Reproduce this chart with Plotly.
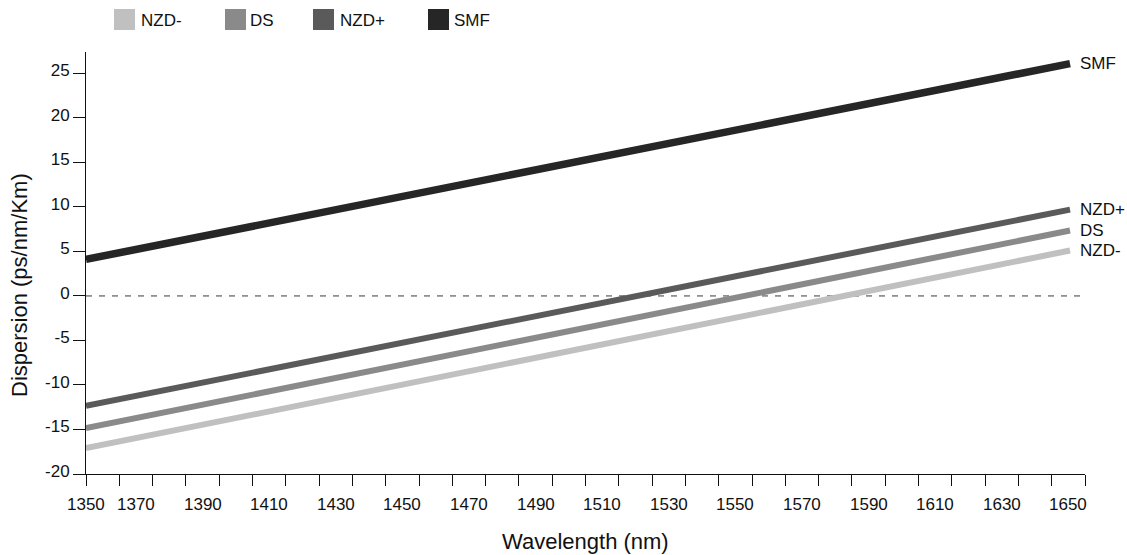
import plotly.graph_objects as go

# ---------------- data ----------------
series_names = ["NZD-", "DS", "NZD+", "SMF"]
series_colors = ["#c0c0c0", "#8a8a8a", "#5a5a5a", "#262626"]
series_widths = [6, 6, 6, 7.5]
wavelength = [1350, 1645.5]
nzd_minus = [-17.1, 5.1]
ds = [-14.85, 7.35]
nzd_plus = [-12.35, 9.7]
smf = [4.1, 26.1]
series_values = [nzd_minus, ds, nzd_plus, smf]

x_tick_labels = [1350, 1370, 1390, 1410, 1430, 1450, 1470, 1490, 1510, 1530,
                 1550, 1570, 1590, 1610, 1630, 1650]
y_ticks = [-20, -15, -10, -5, 0, 5, 10, 15, 20, 25]

# ---------------- layout geometry ----------------
W, H = 1127, 555
L, R, T, B = 86, 1085, 52, 474
FONT = "Liberation Sans, Arial, Helvetica, sans-serif"
FS = 17
TFS = 22


def px_x(p):
    return (p - L) / (R - L)


def px_y(p):
    return (B - p) / (B - T)


fig = go.Figure()
for name, vals, col, w in zip(series_names, series_values, series_colors, series_widths):
    fig.add_trace(go.Scatter(x=wavelength, y=vals, mode="lines", name=name,
                             line=dict(color=col, width=w), showlegend=False,
                             hoverinfo="skip"))

annotations = []
shapes = []

# zero dashed line
shapes.append(dict(type="line", xref="x", yref="y", x0=1350, x1=1650, y0=0, y1=0,
                   line=dict(color="#3a3a3a", width=1, dash="6px,7px"), layer="below"))

# right-end labels
for name, vals in zip(series_names, series_values):
    annotations.append(dict(x=wavelength[-1], y=vals[-1], xref="x", yref="y",
                            text=name, showarrow=False, xanchor="left",
                            yanchor="middle", xshift=8,
                            font=dict(family=FONT, size=FS, color="#111111")))

# x tick labels (placed between tick marks as in the reference)
for i, lab in enumerate(x_tick_labels):
    pos = lab if i == 0 else lab - 5
    annotations.append(dict(x=pos, y=0, xref="x", yref="paper", text=str(lab),
                            showarrow=False, xanchor="center", yanchor="middle",
                            yshift=-30, font=dict(family=FONT, size=FS, color="#111111")))

# axis titles
annotations.append(dict(x=0.5, y=0, xref="paper", yref="paper", text="Wavelength (nm)",
                        showarrow=False, xanchor="center", yanchor="middle", yshift=-67,
                        font=dict(family=FONT, size=TFS, color="#111111")))
annotations.append(dict(x=px_x(19), y=px_y(285), xref="paper", yref="paper",
                        text="Dispersion (ps/nm/Km)", textangle=-90, showarrow=False,
                        xanchor="center", yanchor="middle",
                        font=dict(family=FONT, size=TFS, color="#111111")))

# legend (squares + text across the top)
legend_sq_x = [114, 225, 313, 428]
legend_txt_x = [139, 248, 338, 452]
for name, col, sx, tx in zip(series_names, series_colors, legend_sq_x, legend_txt_x):
    shapes.append(dict(type="rect", xref="paper", yref="paper",
                       x0=px_x(sx), x1=px_x(sx + 21), y0=px_y(30), y1=px_y(9),
                       fillcolor=col, line=dict(width=0)))
    annotations.append(dict(x=px_x(tx), y=px_y(20), xref="paper", yref="paper",
                            text=name, showarrow=False, xanchor="left", yanchor="middle",
                            font=dict(family=FONT, size=FS, color="#111111")))

fig.update_layout(
    width=W, height=H,
    margin=dict(l=L, r=W - R, t=T, b=H - B, pad=0),
    paper_bgcolor="white", plot_bgcolor="white",
    font=dict(family=FONT, size=FS, color="#111111"),
    showlegend=False,
    shapes=shapes, annotations=annotations,
    xaxis=dict(range=[1350, 1650], tickmode="linear", tick0=1350, dtick=10,
               showticklabels=False, ticks="outside", ticklen=11, tickwidth=1,
               tickcolor="#111111", showline=True, linecolor="#111111", linewidth=1,
               showgrid=False, zeroline=False, fixedrange=True),
    yaxis=dict(range=[-20, 27.4], tickmode="array", tickvals=y_ticks,
               ticktext=[str(v) for v in y_ticks], ticks="outside", ticklen=12,
               tickwidth=1, tickcolor="#111111", showline=True, linecolor="#111111",
               linewidth=1, showgrid=False, zeroline=False, ticklabelshift=-3,
               tickfont=dict(family=FONT, size=FS, color="#111111"), fixedrange=True),
)

fig.write_html("out.html", config={"displayModeBar": False},
               post_script="document.body.style.margin='0px';document.body.style.overflow='hidden';")
